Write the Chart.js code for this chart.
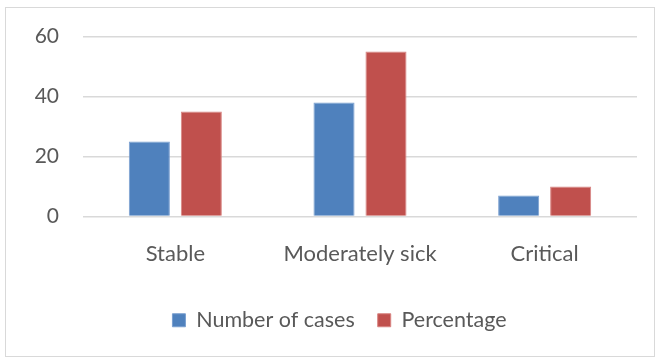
<!DOCTYPE html>
<html>
<head>
<meta charset="utf-8">
<script src="https://cdn.jsdelivr.net/npm/chart.js@4/dist/chart.umd.min.js"></script>
<style>
  html, body { margin: 0; padding: 0; background: #ffffff; }
  #wrap { position: relative; width: 661px; height: 358px; }
  #frame {
    position: absolute; left: 5px; top: 7px; width: 648px; height: 348px;
    border: 1.5px solid #D9D9D9; pointer-events: none;
  }
  canvas { position: absolute; left: 0; top: 0; }
</style>
</head>
<body>
<div id="wrap">
  <canvas id="chart" width="661" height="358"></canvas>
  <div id="frame"></div>
</div>
<script>
// Patient condition categories
const categories = ['Stable', 'Moderately sick', 'Critical'];
// Series values
const numberOfCases = [25, 38, 7];
const percentage = [35, 55, 10];
// Value axis ticks
const yTicks = [0, 20, 40, 60];

const textColor = '#595959';
const fontFamily = 'Lato, "Open Sans", "Liberation Sans", sans-serif';

// Centre the legend under the whole frame rather than under the plot box
const legendShift = {
  id: 'legendShift',
  afterLayout(chart) {
    const lg = chart.legend;
    if (lg) { lg.left += 21; lg.right += 21; }
  }
};

new Chart(document.getElementById('chart'), {
  type: 'bar',
  data: {
    labels: categories,
    datasets: [
      {
        label: 'Number of cases',
        data: numberOfCases,
        backgroundColor: '#4F81BD',
        borderColor: '#7A9FD0',
        borderWidth: 1,
        categoryPercentage: 0.563,
        barPercentage: 0.79
      },
      {
        label: 'Percentage',
        data: percentage,
        backgroundColor: '#C0504D',
        borderColor: '#D88482',
        borderWidth: 1,
        categoryPercentage: 0.563,
        barPercentage: 0.79
      }
    ]
  },
  plugins: [legendShift],
  options: {
    responsive: false,
    animation: false,
    layout: { padding: { left: 0, right: 24, top: 36, bottom: 17 } },
    plugins: {
      tooltip: { enabled: false },
      legend: {
        position: 'bottom',
        labels: {
          color: textColor,
          font: { family: fontFamily, size: 21.5 },
          boxWidth: 13,
          boxHeight: 13,
          padding: 23,
          useBorderRadius: false
        }
      }
    },
    scales: {
      x: {
        grid: { display: false, drawTicks: false },
        border: { display: false },
        ticks: {
          color: textColor,
          font: { family: fontFamily, size: 22 },
          padding: 24
        },
        afterFit: (scale) => { scale.height = 70; }
      },
      y: {
        min: yTicks[0],
        max: yTicks[yTicks.length - 1],
        afterBuildTicks: (scale) => { scale.ticks = yTicks.map(v => ({ value: v })); },
        grid: { color: '#D9D9D9', lineWidth: 1.5, drawTicks: false },
        border: { display: false },
        ticks: {
          color: textColor,
          font: { family: fontFamily, size: 21 },
          padding: 24
        },
        afterFit: (scale) => { scale.width = 83; }
      }
    }
  }
});
</script>
</body>
</html>
